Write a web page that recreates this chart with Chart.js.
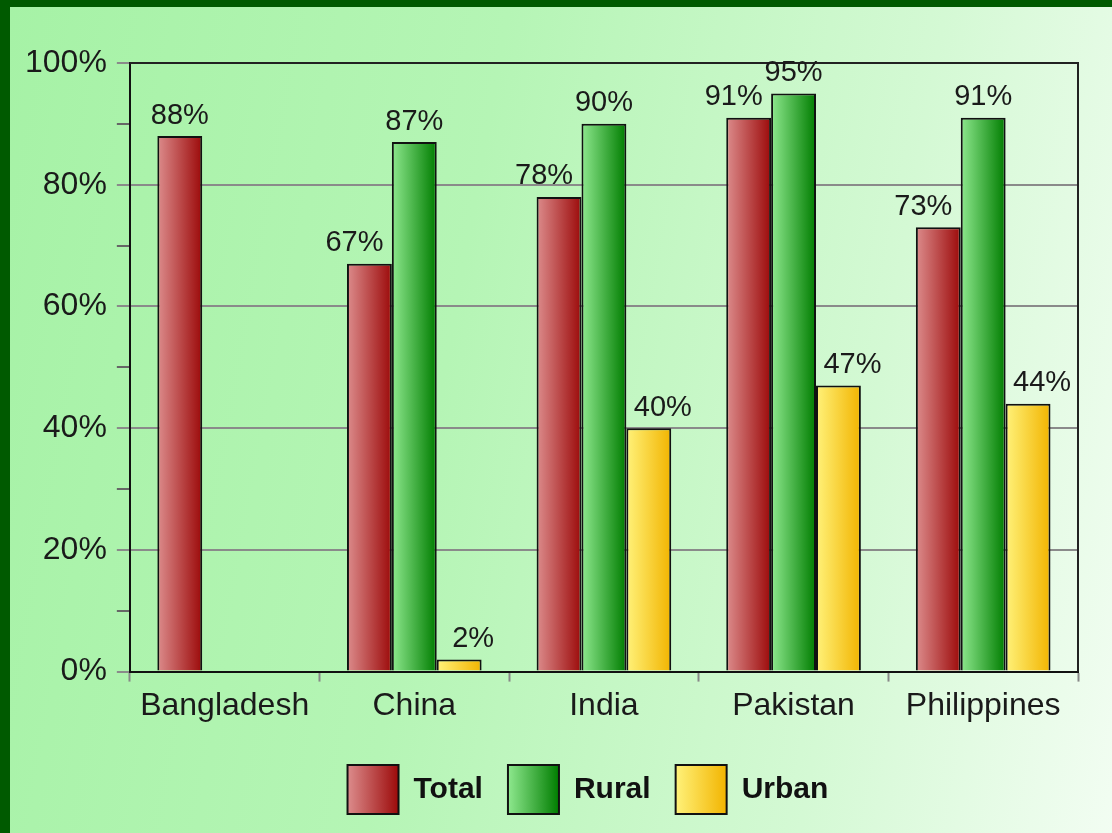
<!DOCTYPE html>
<html>
<head>
<meta charset="utf-8">
<script src="https://cdn.jsdelivr.net/npm/chart.js@4/dist/chart.umd.min.js"></script>
<style>
  html, body { margin: 0; padding: 0; }
  body { width: 1112px; height: 833px; background: #005a00; position: relative; overflow: hidden; }
  #wrap {
    position: absolute; left: 10px; top: 7px; width: 1102px; height: 826px;
    background: linear-gradient(100deg, #a6f2a6 0%, #b5f5b5 40%, #d4f9d4 75%, #f2fdf2 100%);
  }
</style>
</head>
<body>
<div id="wrap"><canvas id="grafico" width="1102" height="826"></canvas></div>
<script>
// Datos de la gráfica
const paises = ["Bangladesh", "China", "India", "Pakistan", "Philippines"];
const total = [88, 67, 78, 91, 73];
const rural = [null, 87, 90, 95, 91];
const urbano = [null, 2, 40, 47, 44];
const series = ["Total", "Rural", "Urban"];

// Colores (claro a oscuro, de izquierda a derecha en cada barra)
const colores = [
  ["#dc8c8c", "#9c0a0a"],
  ["#8ee88e", "#007d00"],
  ["#fff27a", "#f2b400"],
];
const catPct = 0.71;

// Gradiente horizontal por barra
function gradienteBarra(ds) {
  return (ctx) => {
    const chart = ctx.chart;
    const xs = chart.scales.x;
    if (ctx.type !== "data" || !chart.chartArea || !xs) return colores[ds][1];
    const catW = xs.width / paises.length;
    const barW = (catW * catPct) / 3;
    const left = xs.getPixelForValue(ctx.dataIndex) - (catW * catPct) / 2 + ds * barW;
    const g = chart.ctx.createLinearGradient(left, 0, left + barW, 0);
    g.addColorStop(0, colores[ds][0]);
    g.addColorStop(1, colores[ds][1]);
    return g;
  };
}

// Etiquetas de valor sobre las barras
const desplazamiento = [-15, 0, 14];
const etiquetas = {
  id: "etiquetas",
  afterDatasetsDraw(chart) {
    const ctx = chart.ctx;
    ctx.save();
    ctx.font = "29px 'Liberation Sans', Arial, sans-serif";
    ctx.fillStyle = "#1a1a1a";
    ctx.textAlign = "center";
    ctx.textBaseline = "bottom";
    chart.data.datasets.forEach((d, i) => {
      const meta = chart.getDatasetMeta(i);
      meta.data.forEach((el, j) => {
        const v = d.data[j];
        if (v === null) return;
        const solo = chart.data.datasets.filter((o) => o.data[j] !== null).length === 1;
        const dx = solo ? 0 : desplazamiento[i];
        ctx.fillText(v + "%", el.x + dx, el.y - 6);
      });
    });
    ctx.restore();
  },
};

// Marco del área de trazado
const marco = {
  id: "marco",
  beforeDatasetsDraw(chart) {
    const { left, top, right, bottom } = chart.chartArea;
    const ctx = chart.ctx;
    ctx.save();
    ctx.strokeStyle = "#222";
    ctx.lineWidth = 2;
    ctx.beginPath();
    ctx.moveTo(left, top);
    ctx.lineTo(right, top);
    ctx.lineTo(right, bottom);
    ctx.stroke();
    ctx.restore();
  },
};

// Leyenda: mover un poco y poner gradientes en las cajas
const leyenda = {
  id: "leyenda",
  afterLayout(chart) {
    const lg = chart.legend;
    const ca = chart.chartArea;
    const shift = (ca.left + ca.right) / 2 - 16 - (lg.left + lg.right) / 2;
    lg.left += shift;
    lg.right += shift;
    lg.top += 10;
    lg.bottom += 10;
  },
  afterUpdate(chart) {
    const lg = chart.legend;
    const bw = lg.options.labels.boxWidth;
    lg.legendItems.forEach((item, i) => {
      const hb = lg.legendHitBoxes[i];
      if (!hb) return;
      const g = chart.ctx.createLinearGradient(hb.left, 0, hb.left + bw, 0);
      g.addColorStop(0, colores[i][0]);
      g.addColorStop(1, colores[i][1]);
      item.fillStyle = g;
    });
  },
};

const datos = [total, rural, urbano];

new Chart(document.getElementById("grafico"), {
  type: "bar",
  data: {
    labels: paises,
    datasets: series.map((s, i) => ({
      label: s,
      data: datos[i],
      backgroundColor: gradienteBarra(i),
      borderColor: "#111",
      borderWidth: 2,
      categoryPercentage: catPct,
      barPercentage: 1,
    })),
  },
  options: {
    responsive: false,
    animation: false,
    events: [],
    layout: { padding: { top: 56, right: 34, left: 5, bottom: 19 } },
    scales: {
      x: {
        offset: true,
        border: { color: "#111", width: 2 },
        grid: { offset: true, drawOnChartArea: false, tickLength: 10, color: "#888", tickWidth: 2 },
        ticks: {
          color: "#1a1a1a",
          padding: 5,
          font: { family: "'Liberation Sans', Arial, sans-serif", size: 32 },
        },
      },
      y: {
        min: 0,
        max: 100,
        border: { color: "#111", width: 2 },
        grid: {
          color: (c) => (c.tick && c.tick.value % 20 === 0 ? "#8a8a8a" : "rgba(0,0,0,0)"),
          tickColor: (c) => (c.tick && c.tick.value % 20 === 0 ? "#8a8a8a" : "#666"),
          lineWidth: 2,
          tickLength: 13,
        },
        ticks: {
          stepSize: 10,
          color: "#1a1a1a",
          padding: 10,
          font: { family: "'Liberation Sans', Arial, sans-serif", size: 32 },
          callback: (v) => (v % 20 === 0 ? v + "%" : ""),
        },
      },
    },
    plugins: {
      tooltip: { enabled: false },
      legend: {
        position: "bottom",
        labels: {
          boxWidth: 51,
          boxHeight: 49,
          padding: 25,
          color: "#111",
          font: { family: "'Liberation Sans', Arial, sans-serif", size: 30, weight: "bold" },
        },
      },
    },
  },
  plugins: [etiquetas, marco, leyenda],
});
</script>
</body>
</html>
